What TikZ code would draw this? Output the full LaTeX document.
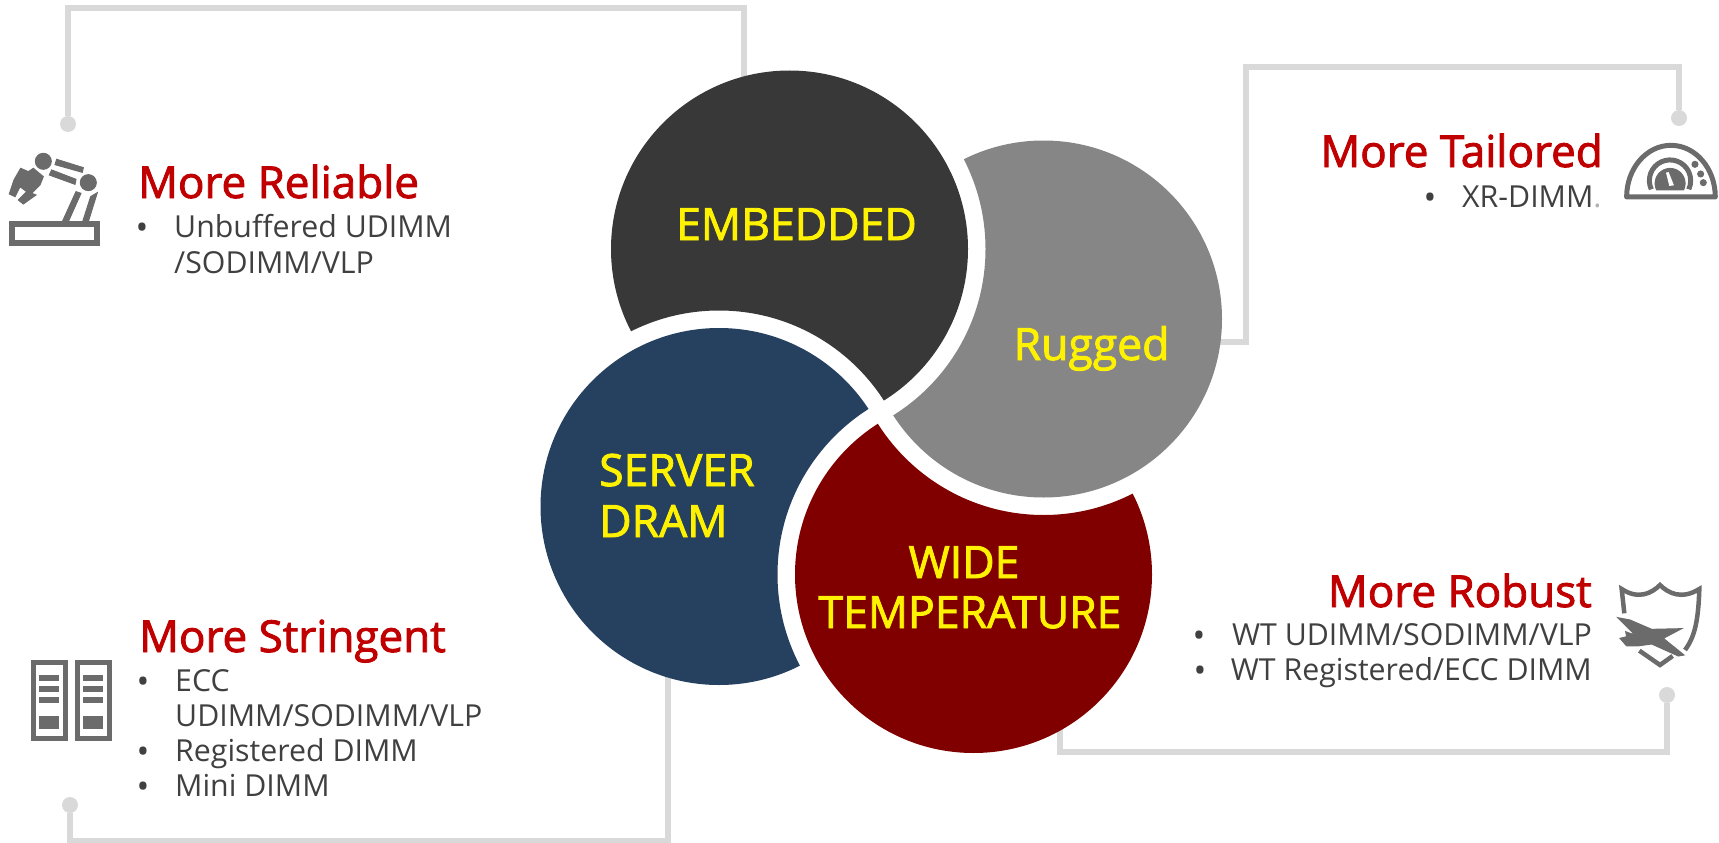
\documentclass[tikz,border=0pt]{standalone}
\usepackage{fontspec}
\setmainfont{Open Sans}
\newfontfamily\strongfont[FakeBold=2]{Open Sans}
\definecolor{embeddedfill}{HTML}{383838}
\definecolor{ruggedfill}{HTML}{868686}
\definecolor{serverfill}{HTML}{264060}
\definecolor{widefill}{HTML}{800000}
\definecolor{wirecol}{HTML}{D9D9D9}
\definecolor{iconcol}{HTML}{6B6B6B}
\definecolor{headcol}{HTML}{C00000}
\definecolor{bodycol}{HTML}{404040}

\begin{document}
\begin{tikzpicture}[x=1pt,y=-1pt]
  \tikzstyle{wire}=[draw=wirecol,line width=5.5pt]
  \tikzstyle{wiredot}=[circle,fill=wirecol,inner sep=0pt,minimum size=16pt]
  \tikzstyle{iconline}=[draw=iconcol,line width=5pt]
  \tikzstyle{iconfill}=[fill=iconcol,draw=iconcol,line width=1pt]
  \tikzstyle{hub}=[text=yellow,inner sep=0pt,anchor=base,font=\strongfont\fontsize{44.5}{54}\selectfont]
  \tikzstyle{head}=[text=headcol,inner sep=0pt,font=\strongfont\fontsize{44}{52}\selectfont]
  \tikzstyle{body}=[text=bodycol,inner sep=0pt,font=\fontsize{30.3}{36}\selectfont]
  \tikzstyle{dotitem}=[text=bodycol,inner sep=0pt,anchor=base,yshift=-2pt,font=\fontsize{34}{36}\selectfont]
  \useasboundingbox (0,0) rectangle (1719,843);

  \coordinate (embeddedC) at (789.5,249);
  \coordinate (ruggedC)   at (1043.5,319);
  \coordinate (serverC)   at (719,506.5);
  \coordinate (wideC)     at (973.5,574.5);

  % connectors
  \node[wiredot] (reliableDot) at (68,124)   {};
  \node[wiredot] (tailoredDot) at (1679,118) {};
  \node[wiredot] (robustDot)   at (1667,695) {};
  \node[wiredot] (stringDot)   at (70,805)   {};
  \coordinate (reliableA) at (68,8);
  \coordinate (reliableB) at (744,8);
  \coordinate (reliableE) at (744,100);
  \coordinate (tailoredA) at (1246,67);
  \coordinate (tailoredB) at (1679,67);
  \coordinate (tailoredE) at (1190,342);
  \coordinate (tailoredC) at (1246,342);
  \coordinate (robustA)   at (1667,752);
  \coordinate (robustB)   at (1060,752);
  \coordinate (robustE)   at (1060,700);
  \coordinate (stringA)   at (70,841);
  \coordinate (stringB)   at (668,841);
  \coordinate (stringE)   at (668,650);
  \draw[wire] (reliableDot) -- (reliableA) -- (reliableB) -- (reliableE);
  \draw[wire] (tailoredDot) -- (tailoredB) -- (tailoredA) -- (tailoredC) -- (tailoredE);
  \draw[wire] (robustDot) -- (robustA) -- (robustB) -- (robustE);
  \draw[wire] (stringDot) -- (stringA) -- (stringB) -- (stringE);

  % each disc is cut by the ring of the next one
  \foreach \disc/\over/\col in {embeddedC/serverC/embeddedfill,ruggedC/embeddedC/ruggedfill,
                                wideC/ruggedC/widefill,serverC/wideC/serverfill} {
    \begin{scope}[even odd rule]
      \clip (0,0) rectangle (1719,843) (\over) circle [radius=196];
      \fill[\col] (\disc) circle [radius=178.5];
    \end{scope}
  }

  \node[hub] (embedded) at (796.5,240) {EMBEDDED};
  \node[hub] (rugged)   at (1091.5,360) {Rugged};
  \node[hub,anchor=base west] (server) at (599,486) {SERVER};
  \node[hub,anchor=base west] (dram)   at (599,537) {DRAM};
  \node[hub] (wide)     at (964,578) {WIDE};
  \node[hub] (temp)     at (970,628) {TEMPERATURE};

  \node[head,anchor=base west] (reliable)  at (138,198) {More Reliable};
  \node[dotitem]               (reliableO) at (142,237) {•};
  \node[body,anchor=base west] (reliableP) at (174,237) {Unbuffered UDIMM};
  \node[body,anchor=base west] (reliableQ) at (174,273) {/SODIMM/VLP};

  \node[head,anchor=base east] (tailored)  at (1603,167) {More Tailored};
  \node[dotitem]               (tailoredO) at (1430,207) {•};
  \node[body,anchor=base west] (tailoredP) at (1462,207) {XR-DIMM\textcolor{black!30}{.}};

  \node[head,anchor=base east] (robust)    at (1592,607) {More Robust};
  \node[dotitem]               (robustO)   at (1199,645) {•};
  \node[body,anchor=base east] (robustP)   at (1592,645) {WT UDIMM/SODIMM/VLP};
  \node[dotitem]               (robustR)   at (1200,680) {•};
  \node[body,anchor=base east] (robustS)   at (1592,680) {WT Registered/ECC DIMM};

  \node[head,anchor=base west] (stringent) at (139,652) {More Stringent};
  \node[dotitem]               (stringO)   at (143,691) {•};
  \node[body,anchor=base west] (stringP)   at (175,691) {ECC};
  \node[body,anchor=base west] (stringQ)   at (175,726) {UDIMM/SODIMM/VLP};
  \node[dotitem]               (stringR)   at (143,761) {•};
  \node[body,anchor=base west] (stringS)   at (175,761) {Registered DIMM};
  \node[dotitem]               (stringT)   at (143,796) {•};
  \node[body,anchor=base west] (stringU)   at (175,796) {Mini DIMM};

  % robot arm
  \begin{scope}[shift={(0,0)},scale=0.3333]
    \draw[iconline,line width=6pt] (36,672) rectangle (290,729);
    \fill[iconfill] (130,484) circle [radius=24] (265,548) circle [radius=24];
    \fill[iconfill] (170,478) -- (250,503) -- (247,517) -- (165,494) -- cycle;
    \fill[iconfill] (155,510) -- (228,538) -- (225,553) -- (148,525) -- cycle;
    \fill[iconfill] (228,575) -- (243,580) -- (205,665) -- (187,665) -- cycle;
    \fill[iconfill] (272,590) -- (292,578) -- (265,665) -- (248,665) -- cycle;
    \fill[iconfill] (62,505) -- (85,515) -- (100,505) -- (130,530) -- (120,555) -- (95,580)
                    -- (108,585) -- (70,612) -- (55,600) -- (80,575) -- (60,560) -- (45,590)
                    -- (28,582) -- (42,540) -- cycle;
  \end{scope}

  % gauge
  \begin{scope}[shift={(1280,50)},scale=0.3333]
    \draw[iconline,line join=round] (1040,441) arc [start angle=180,end angle=360,x radius=133,y radius=155] -- cycle;
    \draw[iconline] (1114,418) arc [start angle=155,end angle=385,radius=62];
    \fill[iconfill] (1130,420) arc [start angle=154,end angle=386,radius=45] -- cycle;
    \fill[white] (1158,368) -- (1166,366) -- (1182,406) -- (1168,408) -- cycle;
    \fill[iconfill] (1245,343) circle [radius=9] (1262,372) circle [radius=9] (1270,398) circle [radius=9];
  \end{scope}

  % server racks
  \begin{scope}[shift={(0,600)},scale=0.3333]
    \foreach \rack in {0,132} {
      \begin{scope}[shift={(\rack,0)}]
        \draw[iconline] (100,188) rectangle (197,417);
        \fill[iconfill] (120,227) rectangle (176,241) (120,260) rectangle (176,275)
                        (120,293) rectangle (176,308) (120,350) rectangle (176,387);
      \end{scope}
    }
  \end{scope}

  % shield and plane
  \begin{scope}[shift={(1580,570)},scale=0.3333]
    \draw[iconline,line width=4.5pt] (133,130) -- (125,57) .. controls (175,90) and (215,70) .. (240,45)
         .. controls (265,70) and (305,90) .. (358,57) .. controls (355,150) and (345,200) .. (315,240);
    \draw[iconline,line width=4.5pt] (178,242) -- (240,285) -- (278,258);
    \fill[iconfill] (113,143) -- (150,150) -- (215,178) -- (305,176) -- (250,205) -- (312,255)
                    -- (295,258) -- (215,222) -- (172,228) -- (140,228) -- (120,205) -- (140,200)
                    -- (137,185) -- (150,190) -- (165,195) -- cycle;
  \end{scope}
\end{tikzpicture}
\end{document}
